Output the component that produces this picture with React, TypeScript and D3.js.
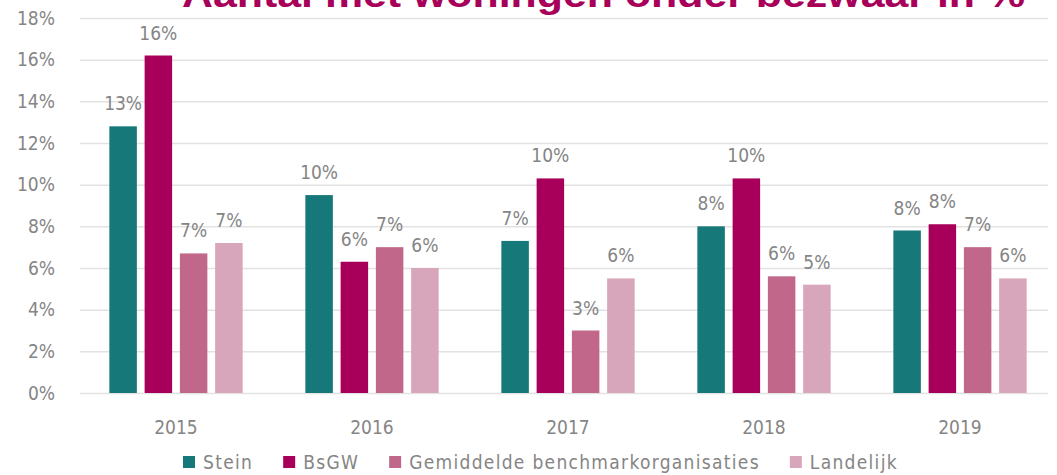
import { axisLeft, scaleBand, scaleLinear, scaleOrdinal, select } from "d3";
import React, { useEffect, useRef } from "react";

const years = ["2015", "2016", "2017", "2018", "2019"];
const seriesNames = ["Stein", "BsGW", "Gemiddelde benchmarkorganisaties", "Landelijk"];
const stein = [12.8, 9.5, 7.3, 8.0, 7.8];
const bsgw = [16.2, 6.3, 10.3, 10.3, 8.1];
const gemiddelde = [6.7, 7.0, 3.0, 5.6, 7.0];
const landelijk = [7.2, 6.0, 5.5, 5.2, 5.5];
const yTicks = [0, 2, 4, 6, 8, 10, 12, 14, 16, 18];
const colors = ["#17787a", "#a8005a", "#c0678a", "#d8a6ba"];
const title = "Aantal met woningen onder bezwaar in %";

const FONT = "'DejaVu Sans Condensed', 'DejaVu Sans', sans-serif";
const GREY = "#858585";

const App: React.FC = () => {
    const svgRef = useRef<SVGSVGElement>(null);

    useEffect(() => {
        if (!svgRef.current) return;
        svgRef.current.innerHTML = "";

        const width = 1057,
            height = 475;
        const values = [stein, bsgw, gemiddelde, landelijk];

        const svg = select(svgRef.current)
            .attr("width", width)
            .attr("height", height)
            .style("font-family", FONT)
            .style("font-stretch", "condensed");

        const yScale = scaleLinear().domain([0, 18]).range([393, 18]);

        const x0 = scaleBand<string>()
            .domain(years)
            .range([78, 1058])
            .paddingInner(0.32)
            .paddingOuter(0.16);

        const x1 = scaleBand<string>()
            .domain(seriesNames)
            .range([0, x0.bandwidth()])
            .paddingInner(0.22);

        const color = scaleOrdinal<string, string>().domain(seriesNames).range(colors);

        // title, cut off at the top like in the source image
        svg.append("text")
            .attr("x", 182)
            .attr("y", 7)
            .attr("textLength", 843)
            .attr("lengthAdjust", "spacingAndGlyphs")
            .attr("fill", "#a8005a")
            .style("font-family", "'Liberation Sans', Arial, sans-serif")
            .style("font-stretch", "normal")
            .style("font-weight", "bold")
            .style("font-size", "36px")
            .text(title);

        // grid + y labels
        svg.append("g")
            .attr("transform", "translate(80,0)")
            .call(
                axisLeft(yScale)
                    .tickValues(yTicks)
                    .tickSize(-968)
                    .tickPadding(25)
                    .tickFormat(d => `${d}%`),
            )
            .call(g => g.select(".domain").remove())
            .call(g => g.selectAll(".tick line").attr("stroke", "#e2e2e2").attr("stroke-width", 1.5))
            .call(g =>
                g
                    .selectAll(".tick text")
                    .attr("fill", GREY)
                    .style("font-family", FONT)
                    .style("font-size", "19px"),
            );

        // bars
        const groups = svg
            .append("g")
            .selectAll("g")
            .data(years)
            .enter()
            .append("g")
            .attr("transform", d => `translate(${x0(d)},0)`);

        groups
            .selectAll("rect")
            .data((_, i) => seriesNames.map((s, k) => ({ key: s, value: values[k][i] })))
            .enter()
            .append("rect")
            .attr("x", d => x1(d.key)!)
            .attr("width", x1.bandwidth())
            .attr("y", d => yScale(d.value))
            .attr("height", d => yScale(0) - yScale(d.value))
            .attr("fill", d => color(d.key));

        groups
            .selectAll("text")
            .data((_, i) => seriesNames.map((s, k) => ({ key: s, value: values[k][i] })))
            .enter()
            .append("text")
            .attr("x", d => x1(d.key)! + x1.bandwidth() / 2)
            .attr("y", d => yScale(d.value) - 16)
            .attr("text-anchor", "middle")
            .attr("fill", GREY)
            .style("font-size", "19px")
            .text(d => `${Math.round(d.value)}%`);

        // x labels
        svg.append("g")
            .selectAll("text")
            .data(years)
            .enter()
            .append("text")
            .attr("x", d => x0(d)! + x0.bandwidth() / 2)
            .attr("y", 434)
            .attr("text-anchor", "middle")
            .attr("fill", GREY)
            .style("font-size", "19px")
            .text(d => d);

        // legend
        const legend = svg.append("g").attr("transform", "translate(183,462)");
        let offset = 0;
        seriesNames.forEach((name, i) => {
            const item = legend.append("g").attr("transform", `translate(${offset},0)`);
            item.append("rect")
                .attr("x", 0)
                .attr("y", -6)
                .attr("width", 12)
                .attr("height", 12)
                .attr("fill", colors[i]);
            const t = item
                .append("text")
                .attr("x", 20)
                .attr("y", 7)
                .attr("fill", GREY)
                .style("font-size", "19px")
                .style("letter-spacing", "1.3px")
                .text(name);
            const w = (t.node() as SVGTextElement).getComputedTextLength();
            offset += 20 + w + 30;
        });
    }, []);

    return (
        <svg
            ref={svgRef}
            style={{ position: "absolute", left: 0, top: 0, background: "#fff" }}
        ></svg>
    );
};

export default App;
